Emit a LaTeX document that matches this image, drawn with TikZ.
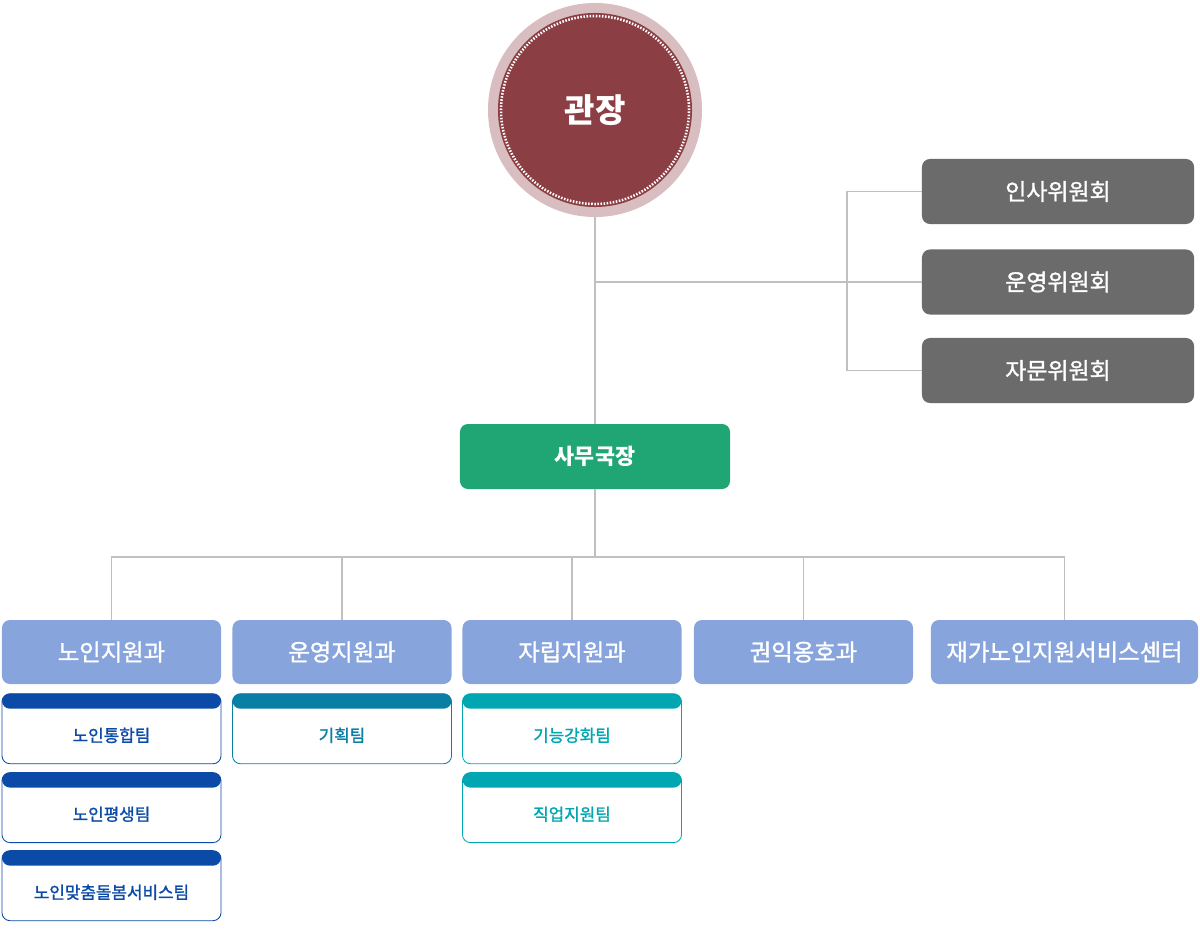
\documentclass[tikz,border=0pt]{standalone}
\usepackage{fontspec}
\setmainfont{Noto Sans CJK KR}
\newfontfamily\medkr[FakeBold=1.4]{Noto Sans CJK KR}
\usepackage{tikz}
\usetikzlibrary{positioning}

\definecolor{ringpink}{HTML}{D9BEC1}
\definecolor{bossred}{HTML}{8B3E43}
\definecolor{comgray}{HTML}{6B6B6B}
\definecolor{secgreen}{HTML}{20A574}
\definecolor{deptblue}{HTML}{87A4DC}
\definecolor{teamblue}{HTML}{0B4AA6}
\definecolor{teamsea}{HTML}{0A7FA6}
\definecolor{teamcyan}{HTML}{00A7B3}
\definecolor{linegray}{HTML}{C0C0C0}

\tikzset{
  link/.style={draw=linegray, line width=0.8pt},
  boss/.style={circle, fill=ringpink, minimum size=5.35cm, inner sep=0pt,
    text=white, font=\fontsize{23.5}{26}\selectfont\bfseries,
    path picture={
      \fill[bossred] (path picture bounding box.center) circle (2.425cm);
      \draw[white, line width=1.8pt, dash pattern=on 1.1pt off 1.1pt]
        (path picture bounding box.center) circle (2.35cm);
    }},
  committee/.style={rectangle, rounded corners=0.2cm, fill=comgray, text=white,
    font=\fontsize{16.3}{19}\medkr, minimum width=6.8cm, minimum height=1.625cm},
  office/.style={rectangle, rounded corners=0.2cm, fill=secgreen, text=white,
    font=\fontsize{15.5}{18}\selectfont\bfseries, minimum width=6.75cm, minimum height=1.625cm},
  dept/.style={rectangle, rounded corners=0.2cm, fill=deptblue, text=white,
    font=\fontsize{16.6}{19}\medkr, minimum width=5.475cm, minimum height=1.6cm},
  team/.style={rectangle, rounded corners=0.2cm, draw=#1, line width=0.6pt, fill=white,
    text=#1, font=\fontsize{12}{14}\medkr, minimum width=5.475cm, minimum height=1.75cm,
    text height=0.7cm, text depth=0.05cm,
    path picture={
      \fill[#1] (path picture bounding box.north west)
        rectangle ([yshift=-0.375cm]path picture bounding box.north east);
    }}
}

\begin{document}
\begin{tikzpicture}[x=0.025cm, y=-0.025cm]

  \useasboundingbox (0,0) rectangle (1200,934);

  \node[boss] (boss) at (595,110) {관장};

  % committees
  \node[committee] (c1) at (1058,191.5) {인사위원회};
  \node[committee] (c2) at (1058,282) {운영위원회};
  \node[committee] (c3) at (1058,370.5) {자문위원회};

  \node[office] (sec) at (595,456.5) {사무국장};

  % departments
  \node[dept] (d1) at (111.5,652) {노인지원과};
  \node[dept] (d2) at (342,652) {운영지원과};
  \node[dept] (d3) at (572,652) {자립지원과};
  \node[dept] (d4) at (803.5,652) {권익옹호과};
  \node[dept, minimum width=6.675cm] (d5) at (1064.5,652) {재가노인지원서비스센터};

  % teams
  \node[team=teamblue, below=0.225cm of d1] (t1) {노인통합팀};
  \node[team=teamblue, below=0.2cm of t1] (t2) {노인평생팀};
  \node[team=teamblue, below=0.18cm of t2] (t3) {노인맞춤돌봄서비스팀};
  \node[team=teamsea, below=0.225cm of d2] (t4) {기획팀};
  \node[team=teamcyan, below=0.225cm of d3] (t5) {기능강화팀};
  \node[team=teamcyan, below=0.2cm of t5] (t6) {직업지원팀};

  \coordinate (cbus) at (847,282);
  \coordinate (bus) at (595,557);

  \draw[link] (boss) -- (sec);
  \draw[link] (cbus -| boss.south) -- (c2.west);
  \draw[link] (c1.west) -| (cbus) |- (c3.west);
  \draw[link] (sec) -- (bus);
  \foreach \d in {d1,d2,d3,d4,d5}
    \draw[link] (\d.north) |- (bus);

\end{tikzpicture}
\end{document}
